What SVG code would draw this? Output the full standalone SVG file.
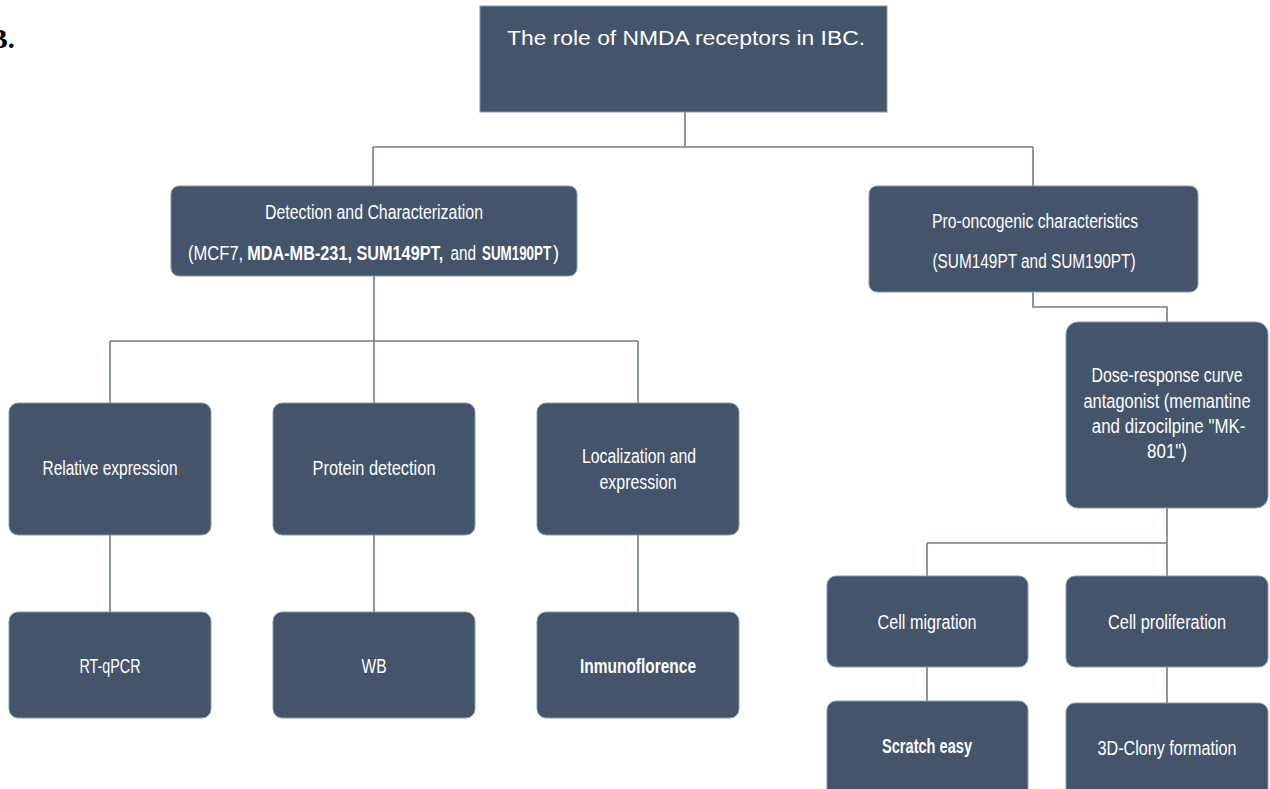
<svg xmlns="http://www.w3.org/2000/svg" width="1270" height="789" viewBox="0 0 1270 789">
<style>
.box{fill:#44546A;stroke:#8a9ab2;stroke-width:1}
.t{fill:#ffffff;font-family:"Liberation Sans",Arial,sans-serif;font-size:20px;text-anchor:middle}
.s{text-anchor:start}
.b{font-weight:bold}
.c{fill:none;stroke:#6e7d93;stroke-width:1.6}
</style>
<rect width="1270" height="789" fill="#ffffff"/>
<text x="-11" y="48" font-family="Liberation Serif, Times New Roman, serif" font-weight="bold" font-size="28" fill="#000">B.</text>
<g id="connectors">
<path class="c" d="M685 112 V147 M373 147 H1033 M373 147 V186 M1033 147 V186"/>
<path class="c" d="M374 276 V341 M110 341 H638 M110 341 V403 M374 341 V403 M638 341 V403"/>
<path class="c" d="M110 535 V612 M374 535 V612 M638 535 V612"/>
<path class="c" d="M1033 292 V307 H1167 V322"/>
<path class="c" d="M1167 508 V543 M927 543 H1167 M927 543 V576 M1167 543 V576"/>
<path class="c" d="M927 667 V701 M1167 667 V703"/>
</g>
<g id="n-title">
<rect class="box" x="480" y="6" width="407" height="106"/>
<text class="t" x="686" y="45" font-size="24" textLength="358" lengthAdjust="spacingAndGlyphs">The role of NMDA receptors in IBC.</text>
</g>
<g id="n-detection">
<rect class="box" x="171" y="186" width="406" height="90" rx="8"/>
<text class="t" x="374" y="219" textLength="218" lengthAdjust="spacingAndGlyphs">Detection and Characterization</text>
<g transform="translate(188,260) scale(0.8,1)">
<text class="t s" x="0" y="0" font-size="21" textLength="69" lengthAdjust="spacingAndGlyphs">(MCF7,</text>
<text class="t s b" x="74" y="0" font-size="21" textLength="245" lengthAdjust="spacingAndGlyphs">MDA-MB-231, SUM149PT,</text>
<text class="t s" x="328" y="0" font-size="21" textLength="32" lengthAdjust="spacingAndGlyphs">and</text>
</g>
<g transform="translate(482,260) scale(0.64,1)">
<text class="t s b" x="0" y="0" font-size="21" textLength="108" lengthAdjust="spacingAndGlyphs">SUM190PT</text>
</g>
<text class="t s" x="553" y="260" font-size="21" textLength="6" lengthAdjust="spacingAndGlyphs">)</text>
</g>
<g id="n-prooncogenic">
<rect class="box" x="869" y="186" width="329" height="106" rx="8"/>
<text class="t" x="1035" y="228" textLength="206" lengthAdjust="spacingAndGlyphs">Pro-oncogenic characteristics</text>
<text class="t" x="1034" y="268" textLength="203" lengthAdjust="spacingAndGlyphs">(SUM149PT and SUM190PT)</text>
</g>
<g id="n-dose">
<rect class="box" x="1066" y="322" width="202" height="186" rx="12"/>
<g transform="translate(1167,0) scale(0.8,1)">
<text class="t" x="0" y="382" font-size="20" textLength="189" lengthAdjust="spacingAndGlyphs">Dose-response curve</text>
<text class="t" x="0" y="408" font-size="20" textLength="209" lengthAdjust="spacingAndGlyphs">antagonist (memantine</text>
<text class="t" x="2" y="433" font-size="20" textLength="192" lengthAdjust="spacingAndGlyphs">and dizocilpine "MK-</text>
<text class="t" x="0" y="458" font-size="20" textLength="50" lengthAdjust="spacingAndGlyphs">801")</text>
</g>
</g>
<g id="n-relative">
<rect class="box" x="9" y="403" width="202" height="132" rx="9"/>
<text class="t" x="110" y="475" textLength="135" lengthAdjust="spacingAndGlyphs">Relative expression</text>
</g>
<g id="n-protein">
<rect class="box" x="273" y="403" width="202" height="132" rx="9"/>
<text class="t" x="374" y="475" textLength="123" lengthAdjust="spacingAndGlyphs">Protein detection</text>
</g>
<g id="n-localization">
<rect class="box" x="537" y="403" width="202" height="132" rx="9"/>
<text class="t" x="639" y="463" textLength="114" lengthAdjust="spacingAndGlyphs">Localization and</text>
<text class="t" x="638" y="489" textLength="77" lengthAdjust="spacingAndGlyphs">expression</text>
</g>
<g id="n-rtqpcr">
<rect class="box" x="9" y="612" width="202" height="106" rx="9"/>
<text class="t" x="110" y="673" textLength="61" lengthAdjust="spacingAndGlyphs">RT-qPCR</text>
</g>
<g id="n-wb">
<rect class="box" x="273" y="612" width="202" height="106" rx="9"/>
<text class="t" x="374" y="673" textLength="25" lengthAdjust="spacingAndGlyphs">WB</text>
</g>
<g id="n-inmuno">
<rect class="box" x="537" y="612" width="202" height="106" rx="9"/>
<text class="t b" x="638" y="673" textLength="116" lengthAdjust="spacingAndGlyphs">Inmunoflorence</text>
</g>
<g id="n-migration">
<rect class="box" x="827" y="576" width="201" height="91" rx="9"/>
<text class="t" x="927" y="629" textLength="99" lengthAdjust="spacingAndGlyphs">Cell migration</text>
</g>
<g id="n-proliferation">
<rect class="box" x="1066" y="576" width="202" height="91" rx="9"/>
<text class="t" x="1167" y="629" textLength="118" lengthAdjust="spacingAndGlyphs">Cell proliferation</text>
</g>
<g id="n-scratch">
<rect class="box" x="827" y="701" width="201" height="100" rx="9"/>
<text class="t b" x="927" y="753" textLength="90" lengthAdjust="spacingAndGlyphs">Scratch easy</text>
</g>
<g id="n-clony">
<rect class="box" x="1066" y="703" width="202" height="98" rx="9"/>
<text class="t" x="1167" y="755" textLength="139" lengthAdjust="spacingAndGlyphs">3D-Clony formation</text>
</g>
</svg>
